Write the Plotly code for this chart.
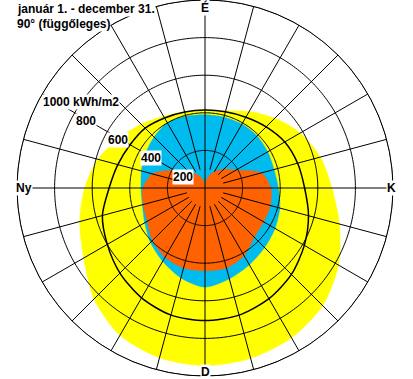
import numpy as np
import plotly.graph_objects as go

# ---- data (kWh/m2 by azimuth, clockwise from north) ----
AZIMUTH = [0, 15, 30, 45, 60, 75, 90, 105, 120, 135, 150, 165,
           180, 195, 210, 225, 240, 255, 270, 285, 300, 315, 330, 345]
YELLOW = [415, 425, 470, 525, 585, 635, 675, 740, 820, 885, 920, 938,
          945, 935, 905, 835, 745, 690, 640, 590, 530, 480, 440, 420]
OUTLINE = [415, 420, 435, 460, 490, 510, 530, 570, 610, 650, 680, 700,
           705, 700, 675, 640, 600, 565, 510, 480, 460, 450, 430, 418]
BLUE = [390, 390, 393, 392, 385, 380, 390, 412, 430, 448, 472, 500,
        527, 495, 450, 410, 370, 345, 340, 350, 365, 383, 400, 395]
ORANGE = [20, 60, 100, 140, 190, 310, 350, 360, 360, 370, 415, 440,
          440, 440, 425, 395, 355, 340, 330, 290, 190, 120, 80, 50]

RINGS = [200, 400, 600, 800, 1000]
RING_LABELS = ["200", "400", "600", "800", "1000 kWh/m2"]
SPOKE_STEP = 15
SPOKE_START = 100
DIRECTIONS = [("É", 0, 181), ("K", 90, 186), ("D", 180, 184), ("Ny", 270, 181)]
TITLE1 = "január 1. - december 31."
TITLE2 = "90° (függőleges)"

W, H = 413, 379
CX, CY, R = 205, 188, 188
RMAX = 1000

def closed(a):
    return list(a) + [a[0]]

fig = go.Figure()
for vals, col in [(YELLOW, "#FFFF00"), (BLUE, "#00BBEE"), (ORANGE, "#FF6200")]:
    fig.add_trace(go.Scatterpolar(r=closed(vals), theta=closed(AZIMUTH), mode="lines",
                                  fill="toself", fillcolor=col,
                                  line=dict(color=col, width=0.5, shape="spline", smoothing=0.8),
                                  hoverinfo="skip", showlegend=False))

fig.add_trace(go.Scatterpolar(r=closed(OUTLINE), theta=closed(AZIMUTH), mode="lines",
                              line=dict(color="black", width=1.5, shape="spline", smoothing=0.8),
                              hoverinfo="skip", showlegend=False))

# grid on top
circ_t = list(np.arange(0, 361, 1.0))
for rv in RINGS:
    fig.add_trace(go.Scatterpolar(r=[rv] * len(circ_t), theta=circ_t, mode="lines",
                                  line=dict(color="black", width=1),
                                  hoverinfo="skip", showlegend=False))
sr, st = [], []
for a in range(0, 360, SPOKE_STEP):
    sr += [0 if a % 90 == 0 else SPOKE_START, RMAX, None]
    st += [a, a, None]
fig.add_trace(go.Scatterpolar(r=sr, theta=st, mode="lines",
                              line=dict(color="black", width=1),
                              hoverinfo="skip", showlegend=False))

def px2paper(x, y):
    return x / W, 1 - y / H

FONT = dict(family="Liberation Sans", size=12, color="black")
ann = []
lab_az = np.radians(300)
for rv, txt in zip(RINGS, RING_LABELS):
    rr = R * rv / RMAX
    x = CX + rr * np.sin(lab_az)
    y = CY - rr * np.cos(lab_az)
    px, py = px2paper(x, y)
    ann.append(dict(x=px, y=py, xref="paper", yref="paper", text="<b>%s</b>" % txt,
                    showarrow=False, xanchor="left", yanchor="top", bgcolor="white",
                    borderpad=0, font=FONT))
for txt, a, rr in DIRECTIONS:
    x = CX + rr * np.sin(np.radians(a))
    y = CY - rr * np.cos(np.radians(a))
    px, py = px2paper(x, y)
    ann.append(dict(x=px, y=py, xref="paper", yref="paper", text="<b>%s</b>" % txt,
                    showarrow=False, xanchor="center", yanchor="middle", bgcolor="white",
                    borderpad=0, font=FONT))
for i, t in enumerate([TITLE1, TITLE2]):
    px, py = px2paper(16, 1 + 15 * i)
    ann.append(dict(x=px, y=py, xref="paper", yref="paper", text="<b>%s</b>" % t,
                    showarrow=False, xanchor="left", yanchor="top", bgcolor="white",
                    borderpad=0, font=FONT))

fig.update_layout(
    width=W, height=H, margin=dict(l=0, r=0, t=0, b=0),
    paper_bgcolor="white", plot_bgcolor="white", showlegend=False,
    annotations=ann,
    polar=dict(
        domain=dict(x=[(CX - R) / W, (CX + R) / W], y=[1 - (CY + R) / H, 1 - (CY - R) / H]),
        bgcolor="white",
        radialaxis=dict(range=[0, RMAX], showgrid=False, showticklabels=False, ticks="",
                        showline=False),
        angularaxis=dict(rotation=90, direction="clockwise", showgrid=False,
                         showticklabels=False, ticks="", showline=True, linecolor="black",
                         linewidth=1),
    ),
)
fig.write_html("out.html", config={"displayModeBar": False},
               post_script="document.body.style.margin='0';")
